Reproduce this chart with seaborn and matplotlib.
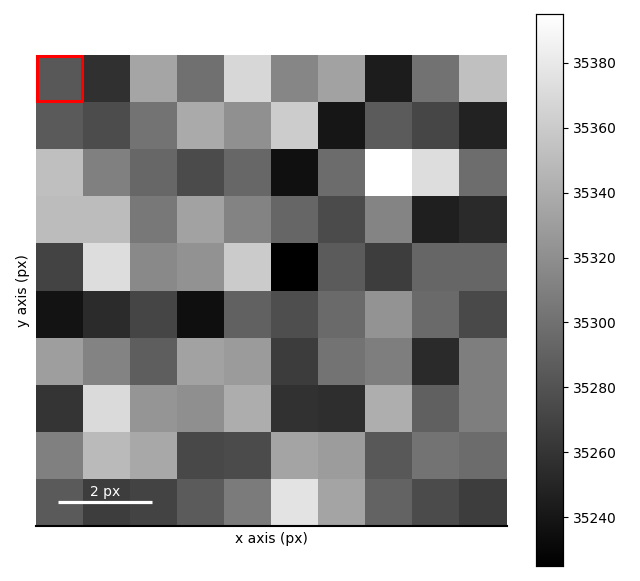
import numpy as np
import matplotlib
matplotlib.use("Agg")
import matplotlib.pyplot as plt
import seaborn as sns
from matplotlib.patches import Rectangle

# pixel intensities (rows top -> bottom)
row0 = [35284, 35257, 35335, 35300, 35368, 35314, 35333, 35244, 35301, 35353]
row1 = [35285, 35276, 35302, 35338, 35321, 35361, 35240, 35286, 35272, 35248]
row2 = [35352, 35310, 35294, 35275, 35294, 35236, 35297, 35395, 35372, 35298]
row3 = [35350, 35350, 35305, 35333, 35312, 35293, 35275, 35313, 35246, 35253]
row4 = [35270, 35372, 35316, 35322, 35360, 35225, 35286, 35266, 35293, 35293]
row5 = [35238, 35254, 35271, 35235, 35290, 35277, 35296, 35323, 35296, 35274]
row6 = [35330, 35312, 35288, 35333, 35328, 35265, 35302, 35309, 35253, 35309]
row7 = [35260, 35370, 35324, 35320, 35340, 35258, 35256, 35341, 35289, 35309]
row8 = [35310, 35349, 35337, 35273, 35275, 35334, 35329, 35284, 35302, 35297]
row9 = [35285, 35266, 35270, 35286, 35307, 35376, 35334, 35291, 35275, 35266]

cbar_ticks = [35240, 35260, 35280, 35300, 35320, 35340, 35360, 35380]
scalebar_len = 2  # px

data = np.array([row0, row1, row2, row3, row4, row5, row6, row7, row8, row9])

fig = plt.figure(figsize=(6.4, 5.81), dpi=100)
ax = fig.add_axes([35 / 640, 55 / 581, 472 / 640, 471 / 581])
cax = fig.add_axes([536 / 640, 15 / 581, 27 / 640, 552 / 581])

sns.heatmap(data, cmap="gray", ax=ax, cbar_ax=cax, square=True,
            xticklabels=False, yticklabels=False,
            cbar_kws={"ticks": cbar_ticks})

for side in ["top", "left", "right"]:
    ax.spines[side].set_visible(False)
ax.spines["bottom"].set_visible(True)
ax.spines["bottom"].set_color("black")
ax.spines["bottom"].set_linewidth(1.5)

ax.set_xlabel("x axis (px)")
ax.set_ylabel("y axis (px)")

# red marker on the selected pixel
ax.add_patch(Rectangle((0.03, 0.03), 0.95, 0.95, fill=False,
                       edgecolor="red", linewidth=2.2, clip_on=False))

# scale bar
ax.plot([0.47, 0.47 + scalebar_len], [9.49, 9.49], color="white", lw=2.3,
        solid_capstyle="butt")
ax.text(0.47 + scalebar_len / 2, 9.43, f"{scalebar_len} px", color="white",
        ha="center", va="bottom", fontsize=10)

cax.tick_params(labelsize=10)
for s in cax.spines.values():
    s.set_visible(True)
    s.set_color("black")
    s.set_linewidth(0.8)

fig.savefig("out.png", dpi=100)
